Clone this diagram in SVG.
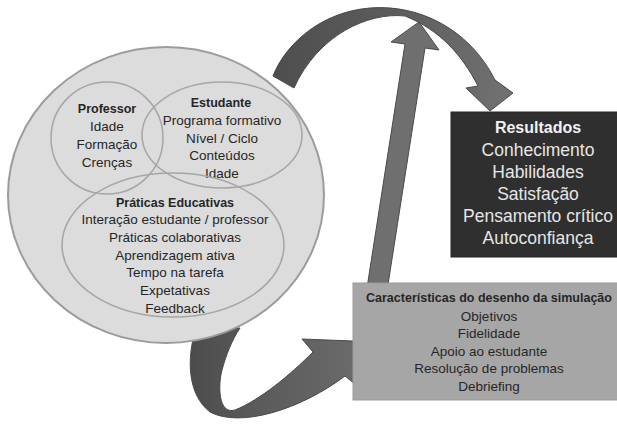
<svg xmlns="http://www.w3.org/2000/svg" width="617" height="435" viewBox="0 0 617 435">
<style>
.t { font-family: "Liberation Sans", Arial, sans-serif; font-size: 13.5px; fill: #262626; text-anchor: middle; }
.b { font-weight: bold; font-size: 12.5px; }
.r { font-size: 17.5px; fill: #e6e6e6; }
.rb { font-size: 16px; font-weight: bold; fill: #f2f2f2; }
.ring { fill: none; stroke: #a6a6a6; stroke-width: 1.5; }
.arrow { stroke: #4a4a4a; stroke-width: 1; }
</style>
<defs>
<linearGradient id="gTop" x1="0" y1="0" x2="1" y2="0">
<stop offset="0" stop-color="#4e4e4e"/>
<stop offset="0.5" stop-color="#5c5c5c"/>
<stop offset="1" stop-color="#727272"/>
</linearGradient>
<linearGradient id="gBot" x1="0" y1="0" x2="1" y2="0">
<stop offset="0" stop-color="#4c4c4c"/>
<stop offset="0.35" stop-color="#5a5a5a"/>
<stop offset="1" stop-color="#6e6e6e"/>
</linearGradient>
</defs>
<rect width="617" height="435" fill="#ffffff"/>
<g id="connectors">
<path class="arrow" fill="url(#gTop)" d="M 273,76 C 285,45 320,12 370,8 C 420,4 470,30 495,80 L 513,93 L 490,111 L 466,88 L 478,86 C 462,55 440,30 405,16 C 368,12 318,35 294,88 Z"/>
<polygon class="arrow" fill="#6f6f6f" points="367,288 405,44 391,42 419,22 439,50 425,48 387,291"/>
<path class="arrow" fill="url(#gBot)" d="M 196,328 C 186,360 188,395 210,412 C 240,428 300,410 345,376 L 360,388 L 378,342 L 302,339 L 313,352 C 290,375 260,400 235,410 C 218,415 218,385 222,370 C 226,355 232,340 240,328 Z"/>
</g>
<g id="contexto">
<ellipse cx="166" cy="195" rx="158" ry="148" fill="#dcdcdc" stroke="#9c9c9c" stroke-width="2"/>
</g>
<g id="professor">
<circle class="ring" cx="107" cy="138" r="56"/>
<text class="t b" x="107" y="113">Professor</text>
<text class="t" x="107" y="131">Idade</text>
<text class="t" x="107" y="149">Formação</text>
<text class="t" x="107" y="166.5">Crenças</text>
</g>
<g id="estudante">
<ellipse class="ring" cx="222" cy="135" rx="80" ry="53"/>
<text class="t b" x="221" y="107">Estudante</text>
<text class="t" x="222" y="125">Programa formativo</text>
<text class="t" x="222" y="142.5">Nível / Ciclo</text>
<text class="t" x="222" y="160">Conteúdos</text>
<text class="t" x="222" y="178">Idade</text>
</g>
<g id="praticas">
<ellipse class="ring" cx="173" cy="245" rx="111" ry="72"/>
<text class="t b" x="175" y="206.5">Práticas Educativas</text>
<text class="t" x="175" y="224.3">Interação estudante / professor</text>
<text class="t" x="175" y="242">Práticas colaborativas</text>
<text class="t" x="175" y="259.5">Aprendizagem ativa</text>
<text class="t" x="175" y="277.3">Tempo na tarefa</text>
<text class="t" x="175" y="295">Expetativas</text>
<text class="t" x="175" y="312.5">Feedback</text>
</g>
<g id="resultados">
<rect x="451" y="112" width="175" height="145" fill="#2f2f2f" stroke="#262626" stroke-width="1"/>
<text class="t rb" x="538" y="133">Resultados</text>
<text class="t r" x="538" y="155.7">Conhecimento</text>
<text class="t r" x="538" y="177.7">Habilidades</text>
<text class="t r" x="538" y="200">Satisfação</text>
<text class="t r" x="538" y="222.3">Pensamento crítico</text>
<text class="t r" x="538" y="244">Autoconfiança</text>
</g>
<g id="caracteristicas">
<rect x="353" y="283" width="272" height="117" fill="#a6a6a6" stroke="#9a9a9a" stroke-width="1"/>
<text class="t b" x="489" y="302.3">Características do desenho da simulação</text>
<text class="t" x="489" y="321">Objetivos</text>
<text class="t" x="489" y="338.3">Fidelidade</text>
<text class="t" x="489" y="356">Apoio ao estudante</text>
<text class="t" x="489" y="373.3">Resolução de problemas</text>
<text class="t" x="489" y="390.7">Debriefing</text>
</g>
</svg>
